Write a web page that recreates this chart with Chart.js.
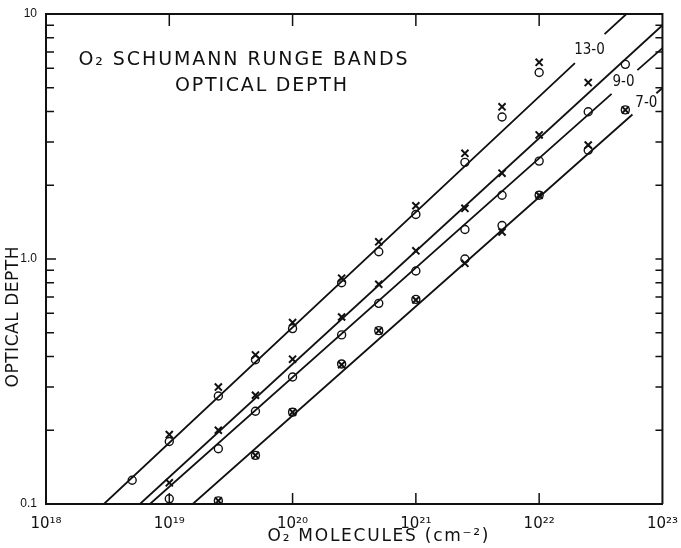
<!DOCTYPE html>
<html>
<head>
<meta charset="utf-8">
<script src="https://cdn.jsdelivr.net/npm/chart.js@4/dist/chart.umd.min.js"></script>
<style>
  html, body { margin: 0; padding: 0; background: #fff; }
  #wrap { width: 681px; height: 548px; }
</style>
</head>
<body>
<div id="wrap"><canvas id="chart" width="681" height="548"></canvas></div>
<script>
// O2 column density (cm^-2) where points were measured
const columnDensity = [5e18, 1e19, 2.5e19, 5e19, 1e20, 2.5e20, 5e20, 1e21, 2.5e21, 5e21, 1e22, 2.5e22, 5e22];

// optical depth readings, null where no mark
const band13Cross  = [null, 0.192, 0.30, 0.406, 0.55, 0.835, 1.175, 1.65, 2.7, 4.18, 6.35, null, null];
const band13Circle = [0.125, 0.18, 0.276, 0.388, 0.52, 0.80, 1.07, 1.52, 2.48, 3.80, 5.77, null, null];
const band11Cross  = [null, 0.122, 0.20, 0.278, 0.39, 0.58, 0.789, 1.08, 1.61, 2.24, 3.21, 5.25, null];
const band9Circle  = [null, 0.105, 0.168, 0.239, 0.33, 0.49, 0.659, 0.893, 1.32, 1.82, 2.51, 3.99, 6.23];
const band7Cross   = [null, null, 0.103, 0.158, 0.237, 0.37, 0.51, 0.68, 0.96, 1.29, 1.82, 2.92, 4.06];
const band7Circle  = [null, null, 0.103, 0.158, 0.237, 0.373, 0.51, 0.684, 1.0, 1.37, 1.82, 2.78, 4.06];

// fitted lines [x, y]; a null y breaks the line where the label sits
const fitLine13 = [[2.95e18, 0.1], [1.95e22, 6.3], [2.6e22, null], [3.39e22, 8.28], [5.1e22, 10]];
const fitLine11 = [[5.78e18, 0.1], [1e23, 9.0]];
const fitLine9  = [[6.97e18, 0.1], [3.87e22, 4.72], [5e22, null], [6.26e22, 5.9], [1e23, 7.26]];
const fitLine7  = [[1.55e19, 0.1], [5.71e22, 3.89], [7e22, null], [8.93e22, 4.75], [1e23, 4.99]];

// line labels, placed in data coordinates
const bandLabels = ['13-0', '9-0', '7-0'];
const bandLabelX = [2.56e22, 4.83e22, 7.41e22];
const bandLabelY = [7.13, 5.27, 4.34];

// axes
const xTicks = [1e18, 1e19, 1e20, 1e21, 1e22, 1e23];
const xTickLabels = ['10¹⁸', '10¹⁹', '10²⁰', '10²¹', '10²²', '10²³'];
const yTicks = [0.1, 1, 10];
const yTickLabels = ['0.1', '1.0', '10'];
const yMinorTicks = [0.2, 0.3, 0.4, 0.5, 0.6, 0.7, 0.8, 0.9, 2, 3, 4, 5, 6, 7, 8, 9];

const ink = '#111';

const toPoints = (ys) => columnDensity
  .map((x, i) => ({ x: x, y: ys[i] }))
  .filter(p => p.y !== null);
const toLine = (pairs) => pairs.map(p => ({ x: p[0], y: p[1] }));

const crossStyle = {
  pointStyle: 'crossRot', pointRadius: 5, pointBorderWidth: 2,
  borderColor: ink, backgroundColor: ink, showLine: false
};
const circleStyle = {
  pointStyle: 'circle', pointRadius: 4, pointBorderWidth: 1.4,
  borderColor: ink, backgroundColor: 'rgba(0,0,0,0)', showLine: false
};
const lineStyle = {
  showLine: true, pointRadius: 0, borderColor: ink, borderWidth: 1.8,
  spanGaps: false, fill: false
};

// draw text stretched to a given width
function fitText(ctx, text, x, y, width, font) {
  ctx.font = font;
  ctx.letterSpacing = '0px';
  const w = ctx.measureText(text).width;
  const sp = width ? (width - w) / (text.length - 1) : 0;
  ctx.letterSpacing = sp + 'px';
  ctx.textAlign = 'left';
  ctx.textBaseline = 'middle';
  ctx.fillText(text, x - (width || w) / 2, y);
  ctx.letterSpacing = '0px';
}

const decor = {
  id: 'decor',
  afterDraw(chart) {
    const { ctx, chartArea: a, scales } = chart;
    const xs = scales.x, ys = scales.y;
    ctx.save();
    ctx.strokeStyle = ink;
    ctx.fillStyle = ink;

    // frame top and right
    ctx.lineWidth = 2;
    ctx.beginPath();
    ctx.moveTo(a.left, a.top); ctx.lineTo(a.right, a.top); ctx.lineTo(a.right, a.bottom);
    ctx.stroke();

    // inward ticks
    ctx.lineWidth = 1.5;
    ctx.beginPath();
    xTicks.slice(1, -1).forEach(v => {
      const px = xs.getPixelForValue(v);
      ctx.moveTo(px, a.bottom); ctx.lineTo(px, a.bottom - 11);
      ctx.moveTo(px, a.top); ctx.lineTo(px, a.top + 12);
    });
    yMinorTicks.concat([1]).forEach(v => {
      const py = ys.getPixelForValue(v);
      const len = v === 1 ? 10 : 8;
      ctx.moveTo(a.left, py); ctx.lineTo(a.left + len, py);
      ctx.moveTo(a.right, py); ctx.lineTo(a.right - 7, py);
    });
    ctx.stroke();

    // line labels
    bandLabels.forEach((t, i) => {
      const px = xs.getPixelForValue(bandLabelX[i]);
      const py = ys.getPixelForValue(bandLabelY[i]);
      fitText(ctx, t, px, py, 0, '15px "DejaVu Sans Condensed", "DejaVu Sans", sans-serif');
    });

    // title inside the plot
    fitText(ctx, 'O₂ SCHUMANN RUNGE BANDS', 243, 60, 329, '19px "DejaVu Sans", sans-serif');
    fitText(ctx, 'OPTICAL DEPTH', 261, 86, 172, '19px "DejaVu Sans", sans-serif');

    // axis titles
    fitText(ctx, 'O₂ MOLECULES (cm⁻²)', 378, 537, 221, '17px "DejaVu Sans", sans-serif');
    ctx.translate(14, 317);
    ctx.rotate(-Math.PI / 2);
    fitText(ctx, 'OPTICAL DEPTH', 0, 0, 141, '17px "DejaVu Sans", sans-serif');
    ctx.restore();
  }
};

new Chart(document.getElementById('chart'), {
  type: 'scatter',
  data: {
    datasets: [
      Object.assign({ label: '13-0 x', data: toPoints(band13Cross) }, crossStyle),
      Object.assign({ label: '13-0 o', data: toPoints(band13Circle) }, circleStyle),
      Object.assign({ label: 'x', data: toPoints(band11Cross) }, crossStyle),
      Object.assign({ label: '9-0 o', data: toPoints(band9Circle) }, circleStyle),
      Object.assign({ label: '7-0 x', data: toPoints(band7Cross) }, crossStyle),
      Object.assign({ label: '7-0 o', data: toPoints(band7Circle) }, circleStyle),
      Object.assign({ label: 'fit 13-0', data: toLine(fitLine13) }, lineStyle),
      Object.assign({ label: 'fit', data: toLine(fitLine11) }, lineStyle),
      Object.assign({ label: 'fit 9-0', data: toLine(fitLine9) }, lineStyle),
      Object.assign({ label: 'fit 7-0', data: toLine(fitLine7) }, lineStyle)
    ]
  },
  options: {
    responsive: false,
    devicePixelRatio: 1,
    animation: false,
    layout: { padding: { top: 14, right: 18, left: 0, bottom: 0 } },
    plugins: {
      legend: { display: false },
      tooltip: { enabled: false }
    },
    scales: {
      x: {
        type: 'logarithmic',
        min: 1e18,
        max: 1e23,
        grid: { display: false },
        border: { display: true, color: ink, width: 2 },
        ticks: {
          color: ink,
          font: { family: '"DejaVu Sans", sans-serif', size: 15 },
          padding: 3,
          maxRotation: 0,
          autoSkip: false,
          callback: (v, i) => xTickLabels[i]
        },
        afterBuildTicks: s => { s.ticks = xTicks.map(v => ({ value: v })); },
        afterFit: s => { s.height = 44; }
      },
      y: {
        type: 'logarithmic',
        min: 0.1,
        max: 10,
        grid: { display: false },
        border: { display: true, color: ink, width: 2 },
        ticks: {
          color: ink,
          font: { family: '"Liberation Sans", sans-serif', size: 12 },
          padding: 1,
          autoSkip: false,
          callback: (v, i) => yTickLabels[i]
        },
        afterBuildTicks: s => { s.ticks = yTicks.map(v => ({ value: v })); },
        afterFit: s => { s.width = 46; }
      }
    }
  },
  plugins: [decor]
});
</script>
</body>
</html>
